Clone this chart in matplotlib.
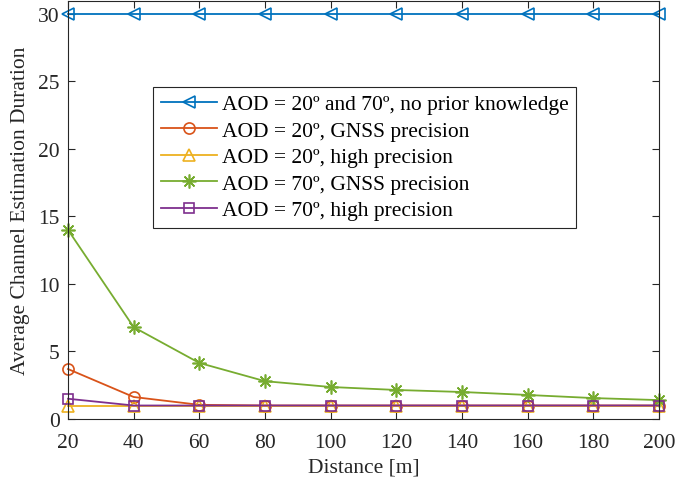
import numpy as np
import matplotlib.pyplot as plt

plt.rcParams['font.family'] = ['Liberation Serif', 'DejaVu Serif']

distance = [20, 40, 60, 80, 100, 120, 140, 160, 180, 200]
no_prior = [30, 30, 30, 30, 30, 30, 30, 30, 30, 30]
aod20_gnss = [3.7, 1.63, 1.05, 1, 1, 1, 1, 1, 1, 1]
aod20_high = [1, 1, 1, 1, 1, 1, 1, 1, 1, 1]
aod70_gnss = [14, 6.8, 4.15, 2.8, 2.37, 2.15, 2.0, 1.78, 1.55, 1.4]
aod70_high = [1.5, 1, 1, 1, 1, 1, 1, 1, 1, 1]

labels = ['AOD = 20º and 70º, no prior knowledge',
          'AOD = 20º, GNSS precision',
          'AOD = 20º, high precision',
          'AOD = 70º, GNSS precision',
          'AOD = 70º, high precision']

fig = plt.figure(figsize=(6.99, 4.85), dpi=100)
ax = fig.add_axes([0.0973, 0.134, 0.8455, 0.862])

lw = 1.3
ms = 7
ax.plot(distance, no_prior, color='#0072BD', marker='<', mfc='none', mew=1.2, ms=ms + 1, lw=lw,
        label=labels[0], clip_on=False)
ax.plot(distance, aod20_gnss, color='#D95319', marker='o', mfc='none', mew=1.2, ms=ms + 1, lw=lw,
        label=labels[1], clip_on=False)
ax.plot(distance, aod20_high, color='#EDB120', marker='^', mfc='none', mew=1.2, ms=ms + 1, lw=lw,
        label=labels[2], clip_on=False)
ax.plot(distance, aod70_gnss, color='#77AC30', marker=(8, 2, 0), mfc='none', mew=1.2, ms=ms + 3, lw=lw,
        label=labels[3], clip_on=False)
ax.plot(distance, aod70_high, color='#7E2F8E', marker='s', mfc='none', mew=1.2, ms=ms, lw=lw,
        label=labels[4], clip_on=False)

ax.set_xlim(20, 200)
ax.set_ylim(0, 30.95)
ax.set_xticks(np.arange(20, 201, 20))
ax.set_yticks(np.arange(0, 31, 5))
ax.tick_params(direction='in', length=5, labelsize=15.5, colors='#262626', top=True, right=True)
ax.tick_params(axis='x', pad=10)
ax.tick_params(axis='y', pad=6)
for s in ax.spines.values():
    s.set_color('#262626')
    s.set_linewidth(0.8)
ax.set_xlabel('Distance [m]', fontsize=15.5, color='#262626', labelpad=4)
ax.set_ylabel('Average Channel Estimation Duration', fontsize=15.5, color='#262626', labelpad=6)

leg = ax.legend(loc='upper left', bbox_to_anchor=(0.144, 0.795), fontsize=15.5, frameon=True,
                fancybox=False, edgecolor='#262626', handlelength=2.6, handletextpad=0.25,
                borderpad=0.35, labelspacing=0.3, borderaxespad=0, framealpha=1)
leg.get_frame().set_linewidth(0.8)

fig.savefig('out.png', dpi=100)
